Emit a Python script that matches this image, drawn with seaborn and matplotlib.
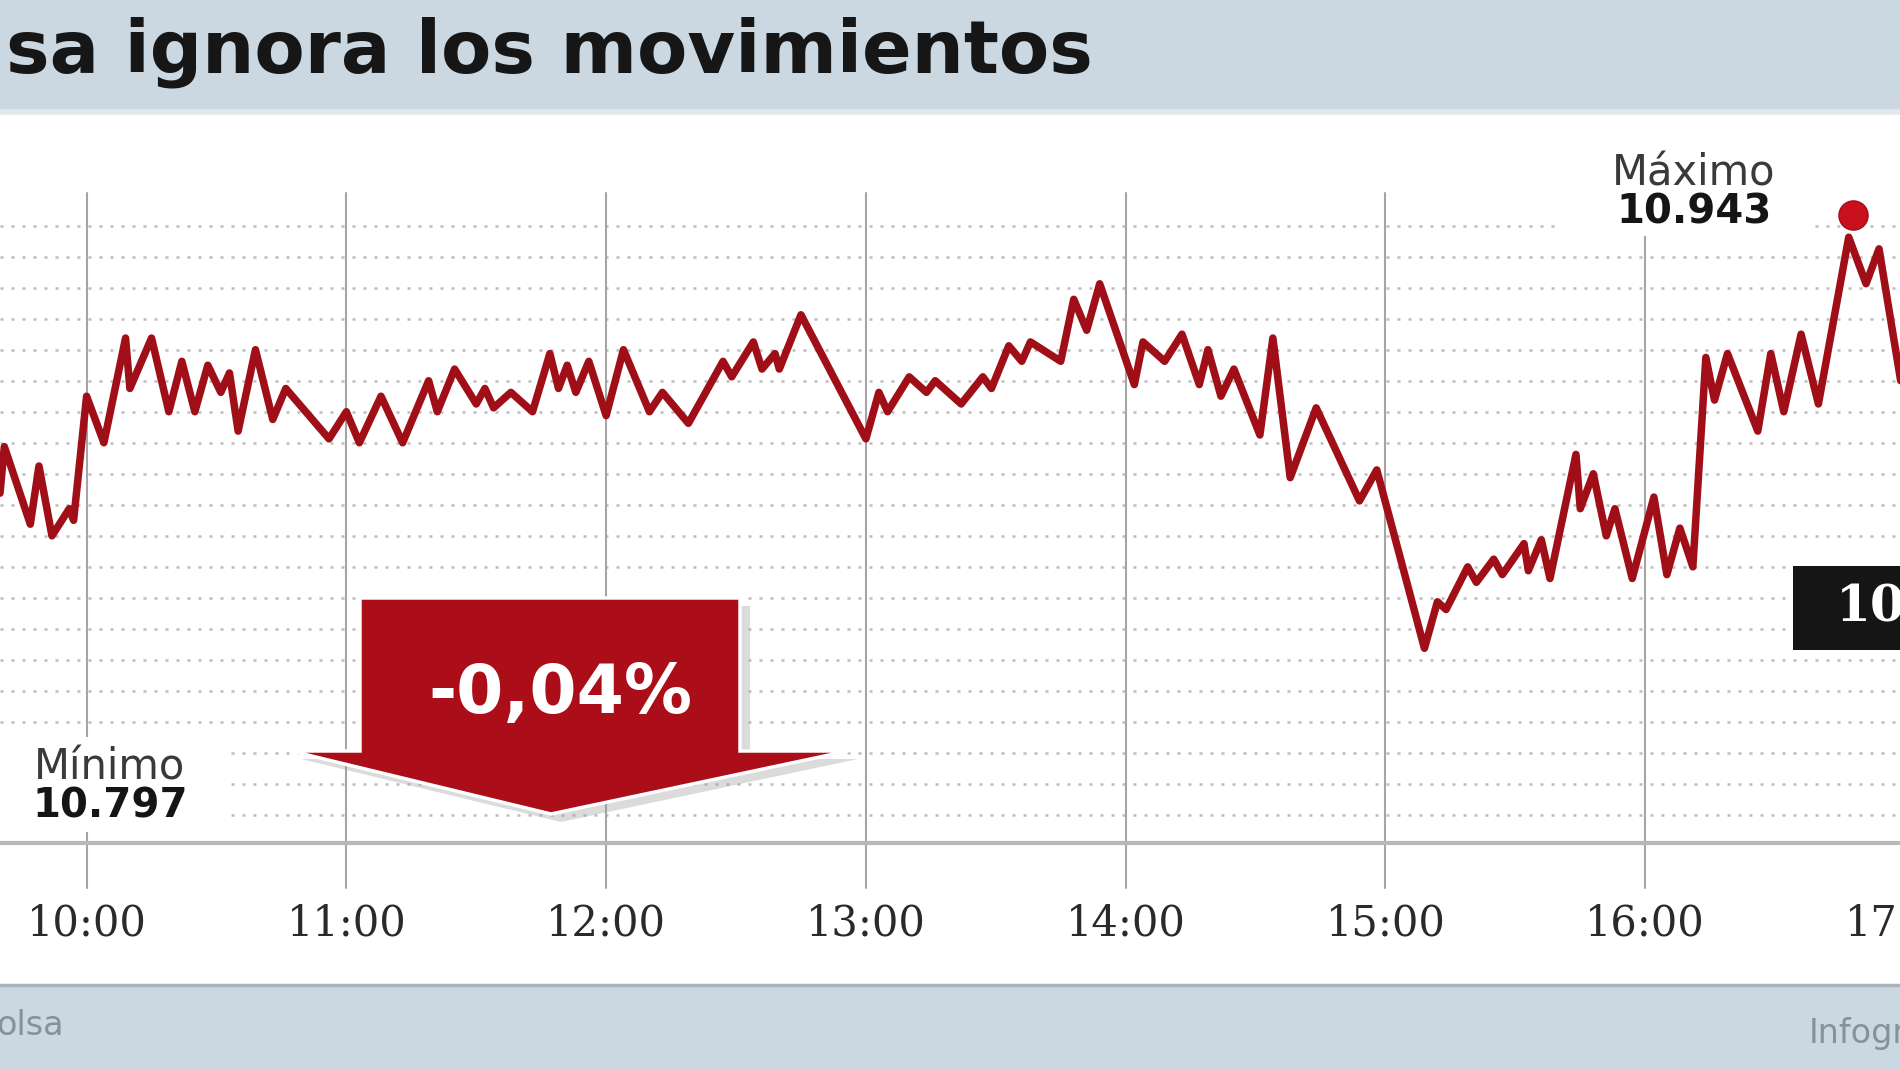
import numpy as np
import pandas as pd
import matplotlib
matplotlib.use("Agg")
import matplotlib.pyplot as plt
import seaborn as sns
from matplotlib.patches import Rectangle, Polygon
from matplotlib.transforms import offset_copy

# ---------------- data ----------------
times = ["09:40", "09:41", "09:47", "09:49", "09:52", "09:56", "09:57", "10:00", "10:04", "10:09",
         "10:10", "10:15", "10:19", "10:22", "10:25", "10:28", "10:31", "10:33", "10:35", "10:39",
         "10:43", "10:46", "10:56", "11:00", "11:03", "11:08", "11:13", "11:19", "11:21", "11:25",
         "11:30", "11:32", "11:34", "11:38", "11:43", "11:47", "11:49", "11:51", "11:53", "11:56",
         "12:00", "12:04", "12:10", "12:13", "12:19", "12:27", "12:29", "12:34", "12:36", "12:39",
         "12:40", "12:45", "13:00", "13:03", "13:05", "13:10", "13:14", "13:16", "13:22", "13:27",
         "13:29", "13:33", "13:36", "13:38", "13:45", "13:48", "13:51", "13:54", "14:02", "14:04",
         "14:09", "14:13", "14:17", "14:19", "14:22", "14:25", "14:31", "14:34", "14:38", "14:44",
         "14:54", "14:58", "15:09", "15:12", "15:14", "15:19", "15:21", "15:25", "15:27", "15:32",
         "15:33", "15:36", "15:38", "15:44", "15:45", "15:48", "15:51", "15:53", "15:57", "16:02",
         "16:05", "16:08", "16:11", "16:14", "16:16", "16:19", "16:26", "16:29", "16:32", "16:36",
         "16:40", "16:47", "16:51", "16:54", "16:59"]
values = [10877, 10889, 10869, 10884, 10866, 10873, 10870, 10902, 10890, 10917,
          10904, 10917, 10898, 10911, 10898, 10910, 10903, 10908, 10893, 10914,
          10896, 10904, 10891, 10898, 10890, 10902, 10890, 10906, 10898, 10909,
          10900, 10904, 10899, 10903, 10898, 10913, 10904, 10910, 10903, 10911,
          10897, 10914, 10898, 10903, 10895, 10911, 10907, 10916, 10909, 10913,
          10909, 10923, 10891, 10903, 10898, 10907, 10903, 10906, 10900, 10907,
          10904, 10915, 10911, 10916, 10911, 10927, 10919, 10931, 10905, 10916,
          10911, 10918, 10905, 10914, 10902, 10909, 10892, 10917, 10881, 10899,
          10875, 10883, 10837, 10849, 10847, 10858, 10854, 10860, 10856, 10864,
          10857, 10865, 10855, 10887, 10873, 10882, 10866, 10873, 10855, 10876,
          10856, 10868, 10858, 10912, 10901, 10913, 10893, 10913, 10898, 10918,
          10900, 10943, 10931, 10940, 10906]
hour_ticks = [10, 11, 12, 13, 14, 15, 16, 17]
hour_labels = ["10:00", "11:00", "12:00", "13:00", "14:00", "15:00", "16:00", "17:00"]
grid_levels = list(range(10794, 10947, 8))
title = "sa ignora los movimientos"
max_word, max_value = "Máximo", "10.943"
min_word, min_value = "Mínimo", "10.797"
change_label = "-0,04%"
last_label = "10"
source_text = "olsa"
credit_text = "Infogr"

# ---------------- styling ----------------
W, H = 1900, 1069
sns.set_theme(style="white")
plt.rcParams["font.family"] = ["DejaVu Sans"]

fig = plt.figure(figsize=(19, 10.69), dpi=100)
fig.patch.set_facecolor("white")


def fx(x):
    return x / W


def fy(y):
    return 1 - y / H


band = "#cbd8e1"
# top and bottom bands
fig.add_artist(Rectangle((0, fy(110)), 1, 110 / H, transform=fig.transFigure,
                         facecolor=band, edgecolor="none", zorder=-2))
fig.add_artist(Rectangle((0, 0), 1, (H - 984) / H, transform=fig.transFigure,
                         facecolor=band, edgecolor="none", zorder=-2))
fig.add_artist(plt.Line2D([0, 1], [fy(112), fy(112)], transform=fig.transFigure,
                          color="#e2e8ec", lw=4, zorder=-1))
fig.add_artist(plt.Line2D([0, 1], [fy(985), fy(985)], transform=fig.transFigure,
                          color="#a9b3b9", lw=2.5, zorder=-1))

# axes
ax = fig.add_axes([0, fy(843), 1905 / W, (843 - 193) / H])
ax.set_facecolor("none")

hours = [int(s[:2]) + int(s[3:]) / 60 for s in times]
df = pd.DataFrame({"hora": hours, "valor": values})

ax.set_yticks(grid_levels)
ax.yaxis.grid(True, color="#bdbdbd", linestyle=(0, (1.2, 3.2)), lw=1.8, zorder=0)
ax.xaxis.grid(False)
for h in hour_ticks:
    ax.axvline(h, ymin=-0.069, ymax=1, color="#a5a5a5", lw=1.5, clip_on=False, zorder=1)

sns.lineplot(data=df, x="hora", y="valor", ax=ax, color="#a00f17", lw=5.4,
             solid_joinstyle="round", zorder=5, sort=True)

imax = int(np.argmax(values))
ax.plot([hours[imax]], [values[imax]], "o", ms=21, color="#c8111c", mec="#a50e17", mew=1,
        transform=offset_copy(ax.transData, fig=fig, x=4, y=22, units="dots"),
        zorder=7, clip_on=False)

ax.set_xlim(9 + 40 / 60, 17)
ax.set_ylim(10786.8, 10954.4)
ax.set_xticks(hour_ticks)
ax.set_xticklabels(hour_labels, fontsize=30, color="#2a2a2a", family=["DejaVu Serif"])
ax.set_yticklabels([])
ax.tick_params(axis="x", length=0, pad=43)
ax.tick_params(axis="y", length=0)
ax.set_xlabel("")
ax.set_ylabel("")
for s in ["top", "left", "right"]:
    ax.spines[s].set_visible(False)
ax.spines["bottom"].set_color("#b8b8b8")
ax.spines["bottom"].set_linewidth(3)

# white backing for labels (hides dotted grid)
fig.add_artist(Rectangle((fx(1562), fy(236)), fx(248), (236 - 148) / H,
                         transform=fig.transFigure, facecolor="white", edgecolor="none", zorder=2))
fig.add_artist(Rectangle((0, fy(832)), fx(227), (832 - 737) / H,
                         transform=fig.transFigure, facecolor="white", edgecolor="none", zorder=2))

fig.text(fx(1694), fy(173), max_word, ha="center", va="center", fontsize=30, color="#3a3a3a", zorder=4)
fig.text(fx(1694), fy(213), max_value, ha="center", va="center", fontsize=29, weight="bold",
         color="#151515", zorder=4)
fig.text(fx(110), fy(767), min_word, ha="center", va="center", fontsize=30, color="#3a3a3a", zorder=4)
fig.text(fx(110), fy(807), min_value, ha="center", va="center", fontsize=29, weight="bold",
         color="#151515", zorder=4)

# red arrow
arrow_px = [(360, 598), (740, 598), (740, 751), (848, 751), (551, 814), (291, 751), (360, 751)]
shadow = [(fx(x + 10), fy(y + 8)) for x, y in arrow_px]
fig.add_artist(Polygon(shadow, closed=True, transform=fig.transFigure, facecolor="#9a9a9a",
                       edgecolor="none", alpha=0.35, zorder=2.5))
fig.add_artist(Polygon([(fx(x), fy(y)) for x, y in arrow_px], closed=True, transform=fig.transFigure,
                       facecolor="#ab0e18", edgecolor="white", lw=2.5, zorder=3))
fig.text(fx(560), fy(694), change_label, ha="center", va="center", fontsize=49, weight="heavy",
         color="white", zorder=4)

# last value box
fig.add_artist(Rectangle((fx(1793), fy(650)), fx(120), (650 - 566) / H, transform=fig.transFigure,
                         facecolor="#151515", edgecolor="none", zorder=3))
fig.text(fx(1836), fy(608), last_label, ha="left", va="center", fontsize=36, weight="bold",
         color="white", family=["DejaVu Serif"], zorder=4)

# title, fitted to width
t = fig.text(fx(6), fy(72), title, ha="left", va="baseline", fontsize=46, weight="bold",
             color="#161616")
fig.canvas.draw()
bb = t.get_window_extent()
t.set_fontsize(46 * 1088 / bb.width)

fig.text(fx(-4), fy(1035), source_text, ha="left", va="baseline", fontsize=24, color="#84929c")
fig.text(fx(1809), fy(1043), credit_text, ha="left", va="baseline", fontsize=24, color="#84929c")

fig.savefig("out.png", dpi=100)
